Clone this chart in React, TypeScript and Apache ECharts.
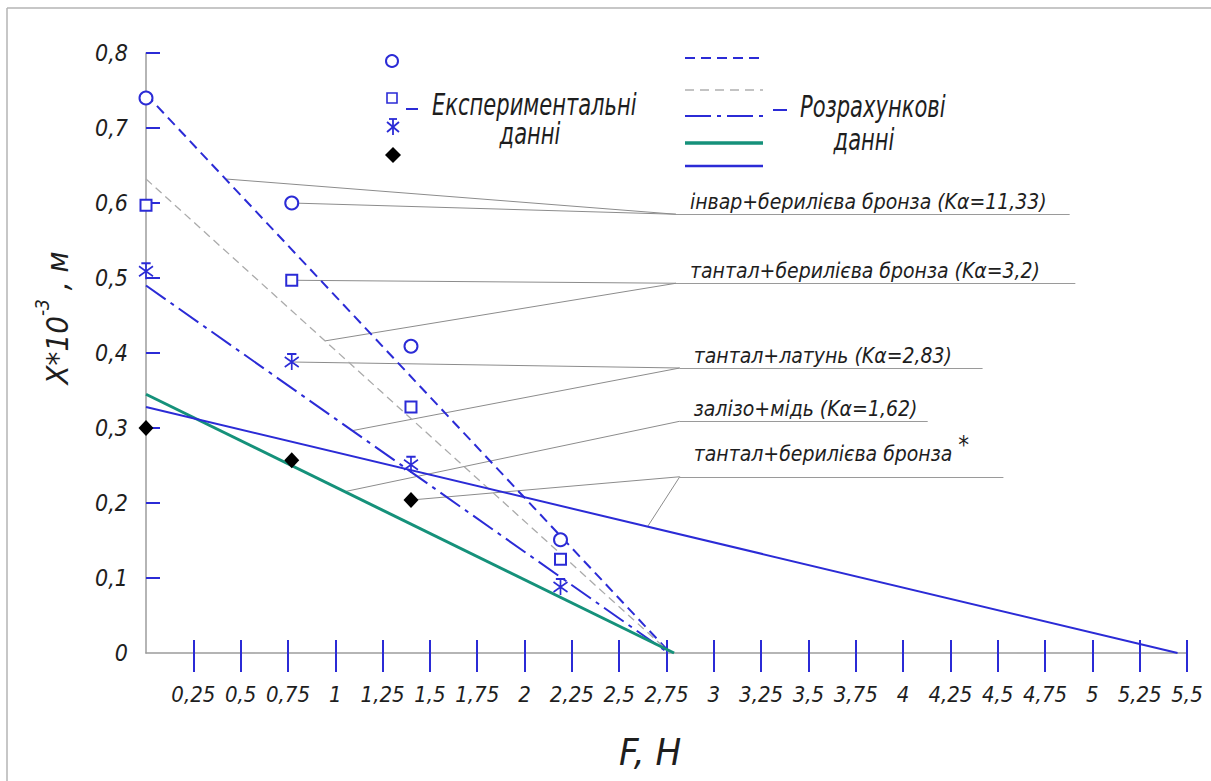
import React, { useEffect, useRef } from 'react';
import * as echarts from 'echarts';

const FONT = "'DejaVu Sans Condensed', 'Liberation Sans Narrow', 'DejaVu Sans', sans-serif";
const BLUE = '#2b2bd6';
const GREEN = '#15917a';
const AXIS_GRAY = '#9c9c9c';
const LEADER_GRAY = '#8c8c8c';
const TEXT = '#1e1e1e';

// axis ticks
const xTicks = [0.25, 0.5, 0.75, 1, 1.25, 1.5, 1.75, 2, 2.25, 2.5, 2.75, 3, 3.25, 3.5, 3.75, 4, 4.25, 4.5, 4.75, 5, 5.25, 5.5];
const yTicks = [0.1, 0.2, 0.3, 0.4, 0.5, 0.6, 0.7, 0.8];

// experimental data (F, H -> X*10^-3, m)
const expForce = [0, 0.77, 1.4, 2.19];
const invarBronzeExp = [0.74, 0.6, 0.409, 0.151];
const tantalBronzeExp = [0.597, 0.497, 0.328, 0.125];
const tantalBrassExp = [0.509, 0.388, 0.251, 0.088];
const tantalBronzeStarExp = [0.3, 0.257, 0.204];

// calculated data (end points of straight lines)
const invarBronzeCalcF = [0, 2.77];
const invarBronzeCalc = [0.745, 0];
const tantalBronzeCalcF = [0, 2.77];
const tantalBronzeCalc = [0.632, 0];
const tantalBrassCalcF = [0, 2.76];
const tantalBrassCalc = [0.49, 0];
const ironCopperCalcF = [0, 2.79];
const ironCopperCalc = [0.345, 0];
const tantalBronzeStarCalcF = [0, 5.45];
const tantalBronzeStarCalc = [0.328, 0];

// annotations
const annotationTexts = [
  'інвар+берилієва бронза (Kα=11,33)',
  'тантал+берилієва бронза (Kα=3,2)',
  'тантал+латунь (Kα=2,83)',
  'залізо+мідь (Kα=1,62)',
  '{t|тантал+берилієва бронза} {s|*}',
];
const annoAnchorF = [2.8, 2.8, 2.82, 2.82, 2.82];
const annoAnchorX = [0.585, 0.493, 0.38, 0.309, 0.235];
const annoEndF = [4.88, 4.91, 4.42, 4.13, 4.53];
const annoLineF = [0.42, 0.946, 1.09, 1.05, 2.65];

const pairs = (xs: number[], ys: number[]) => ys.map((y, i) => [xs[i], y]);
const lineAt = (fs: number[], xs: number[], f: number) =>
  xs[0] + ((xs[1] - xs[0]) * (f - fs[0])) / (fs[1] - fs[0]);

const STAR = 'path://M7,0L7,16M1,3L13,13M1,13L13,3M3,0L11,0';

export default function App() {
  const ref = useRef<HTMLDivElement>(null);
  useEffect(() => {
    if (!ref.current) return;
    const chart = echarts.init(ref.current, null, { renderer: 'svg' });

    const calcSets = [
      [invarBronzeCalcF, invarBronzeCalc],
      [tantalBronzeCalcF, tantalBronzeCalc],
      [tantalBrassCalcF, tantalBrassCalc],
      [ironCopperCalcF, ironCopperCalc],
      [tantalBronzeStarCalcF, tantalBronzeStarCalc],
    ];
    const expSources: (number[] | null)[] = [
      [expForce[1], invarBronzeExp[1]],
      [expForce[1], tantalBronzeExp[1]],
      [expForce[1], tantalBrassExp[1]],
      null,
      [expForce[2], tantalBronzeStarExp[2]],
    ];

    const annoData: any[] = [];
    annotationTexts.forEach((txt, i) => {
      const anchor = [annoAnchorF[i], annoAnchorX[i]];
      annoData.push({
        coords: [anchor, [annoEndF[i], annoAnchorX[i]]],
        lineStyle: { color: '#9a9a9a', width: 1.2 },
        label: {
          show: true,
          position: 'insideStartTop',
          distance: [14, 2],
          formatter: txt,
          fontFamily: FONT,
          fontStyle: 'italic',
          fontSize: 21,
          color: TEXT,
          rich: {
            t: { fontFamily: FONT, fontStyle: 'italic', fontSize: 21, color: TEXT },
            s: { fontFamily: FONT, fontSize: 24, color: TEXT, padding: [0, 0, 18, 0] },
          },
        },
      });
      const [fs, xs] = calcSets[i];
      const f = annoLineF[i];
      annoData.push({ coords: [[f, lineAt(fs, xs, f)], anchor] });
      const src = expSources[i];
      if (src) annoData.push({ coords: [src, anchor] });
    });

    const xFmt = (v: number) => String(+v.toFixed(2)).replace('.', ',');
    const yFmt = (v: number) => (v === 0 ? '0' : v.toFixed(1).replace('.', ','));
    const lbl = { fontFamily: FONT, fontStyle: 'italic', color: TEXT };
    const legendText = (text: string, x: number, y: number, align: string) => ({
      type: 'text', x, y, scaleX: 0.78,
      style: { text, fontSize: 30, fontFamily: FONT, fontStyle: 'italic', fill: TEXT, align, verticalAlign: 'middle' },
    });

    const option: any = {
      animation: false,
      backgroundColor: '#ffffff',
      grid: { left: 146, right: 24, top: 53, bottom: 128 },
      xAxis: [
        {
          type: 'value', min: 0, max: 5.5, interval: 0.25, position: 'bottom',
          splitLine: { show: false },
          axisLine: { show: true, lineStyle: { color: AXIS_GRAY, width: 1.5 } },
          axisTick: { show: true, customValues: xTicks, length: 19, lineStyle: { color: BLUE, width: 2 } },
          axisLabel: { customValues: xTicks, formatter: xFmt, margin: 30, fontSize: 22, ...lbl },
        },
        {
          type: 'value', min: 0, max: 5.5, interval: 0.25, position: 'bottom', offset: 0,
          splitLine: { show: false },
          axisLine: { show: false },
          axisTick: { show: true, inside: true, customValues: xTicks, length: 13, lineStyle: { color: BLUE, width: 2 } },
          axisLabel: { show: false },
        },
      ],
      yAxis: {
        type: 'value', min: 0, max: 0.8, interval: 0.1,
        splitLine: { show: false },
        axisLine: { show: true, lineStyle: { color: AXIS_GRAY, width: 1.5 } },
        axisTick: { show: true, inside: true, customValues: yTicks, length: 14, lineStyle: { color: BLUE, width: 2 } },
        axisLabel: { formatter: yFmt, margin: 18, fontSize: 23, ...lbl },
      },
      graphic: [
        { type: 'line', shape: { x1: 7, y1: 8, x2: 1211, y2: 8 }, style: { stroke: '#b4b4b4', lineWidth: 1.5 } },
        { type: 'line', shape: { x1: 7, y1: 8, x2: 7, y2: 781 }, style: { stroke: '#b4b4b4', lineWidth: 1.5 } },
        // experimental legend
        { type: 'circle', shape: { cx: 392, cy: 61, r: 6 }, style: { fill: '#fff', stroke: BLUE, lineWidth: 2 } },
        { type: 'rect', shape: { x: 387, y: 93, width: 10, height: 10 }, style: { fill: '#fff', stroke: BLUE, lineWidth: 1.6 } },
        {
          type: 'group', x: 393, y: 127, children: [
            { type: 'line', shape: { x1: 0, y1: -8, x2: 0, y2: 8 }, style: { stroke: BLUE, lineWidth: 1.8 } },
            { type: 'line', shape: { x1: -6, y1: -5, x2: 6, y2: 5 }, style: { stroke: BLUE, lineWidth: 1.8 } },
            { type: 'line', shape: { x1: -6, y1: 5, x2: 6, y2: -5 }, style: { stroke: BLUE, lineWidth: 1.8 } },
            { type: 'line', shape: { x1: -4, y1: -8, x2: 4, y2: -8 }, style: { stroke: BLUE, lineWidth: 1.8 } },
          ],
        },
        { type: 'polygon', shape: { points: [[393, 147], [401, 155], [393, 163], [385, 155]] }, style: { fill: '#000' } },
        { type: 'line', shape: { x1: 406, y1: 109, x2: 418, y2: 109 }, style: { stroke: BLUE, lineWidth: 2 } },
        legendText('Експериментальні', 432, 104, 'left'),
        legendText('данні', 530, 133, 'center'),
        // calculated legend
        { type: 'line', shape: { x1: 685, y1: 58, x2: 763, y2: 58 }, style: { stroke: BLUE, lineWidth: 2.2, lineDash: [10, 6] } },
        { type: 'line', shape: { x1: 685, y1: 90, x2: 763, y2: 90 }, style: { stroke: '#b0b0b0', lineWidth: 1.4, lineDash: [9, 6] } },
        { type: 'line', shape: { x1: 685, y1: 116, x2: 763, y2: 116 }, style: { stroke: BLUE, lineWidth: 2.2, lineDash: [26, 6, 4, 6] } },
        { type: 'line', shape: { x1: 685, y1: 143, x2: 763, y2: 143 }, style: { stroke: GREEN, lineWidth: 3.5 } },
        { type: 'line', shape: { x1: 685, y1: 166, x2: 763, y2: 166 }, style: { stroke: BLUE, lineWidth: 2.4 } },
        { type: 'line', shape: { x1: 773, y1: 110, x2: 787, y2: 110 }, style: { stroke: BLUE, lineWidth: 2 } },
        legendText('Розрахункові', 800, 106, 'left'),
        legendText('данні', 864, 139, 'center'),
        // axis titles
        {
          type: 'text', x: 52, y: 318, rotation: Math.PI / 2,
          style: {
            text: '{a|X*10}{b|-3}{a| , м}', align: 'center', verticalAlign: 'middle',
            rich: {
              a: { fontSize: 31, fontFamily: FONT, fontStyle: 'italic', fill: TEXT, lineHeight: 40, verticalAlign: 'bottom' },
              b: { fontSize: 19, fontFamily: FONT, fontStyle: 'italic', fill: TEXT, lineHeight: 40, verticalAlign: 'top' },
            },
          },
        },
        { type: 'text', x: 650, y: 752, style: { text: 'F, H', fontSize: 38, fontFamily: FONT, fontStyle: 'italic', fill: TEXT, align: 'center', verticalAlign: 'middle' } },
      ],
      series: [
        { name: 'інвар+берилієва бронза розр.', type: 'line', data: pairs(invarBronzeCalcF, invarBronzeCalc), symbol: 'none', z: 2, lineStyle: { color: BLUE, width: 2, type: [10, 6] } },
        { name: 'тантал+берилієва бронза розр.', type: 'line', data: pairs(tantalBronzeCalcF, tantalBronzeCalc), symbol: 'none', z: 2, lineStyle: { color: '#ababab', width: 1.3, type: [8, 5] } },
        { name: 'тантал+латунь розр.', type: 'line', data: pairs(tantalBrassCalcF, tantalBrassCalc), symbol: 'none', z: 2, lineStyle: { color: BLUE, width: 2, type: [24, 6, 4, 6] } },
        { name: 'залізо+мідь розр.', type: 'line', data: pairs(ironCopperCalcF, ironCopperCalc), symbol: 'none', z: 2, lineStyle: { color: GREEN, width: 3 } },
        { name: 'тантал+берилієва бронза* розр.', type: 'line', data: pairs(tantalBronzeStarCalcF, tantalBronzeStarCalc), symbol: 'none', z: 2, lineStyle: { color: BLUE, width: 2 } },
        {
          name: 'анотації', type: 'lines', coordinateSystem: 'cartesian2d', z: 1, silent: true,
          lineStyle: { color: LEADER_GRAY, width: 1, opacity: 1, curveness: 0 },
          data: annoData,
        },
        { name: 'інвар+берилієва бронза експ.', type: 'scatter', data: pairs(expForce, invarBronzeExp), symbol: 'emptyCircle', symbolSize: 13, z: 5, itemStyle: { color: BLUE, borderColor: BLUE, borderWidth: 2, opacity: 1 } },
        { name: 'тантал+берилієва бронза експ.', type: 'scatter', data: pairs(expForce, tantalBronzeExp), symbol: 'emptyRect', symbolSize: 11, z: 5, itemStyle: { color: BLUE, borderColor: BLUE, borderWidth: 1.8, opacity: 1 } },
        { name: 'тантал+латунь експ.', type: 'scatter', data: pairs(expForce, tantalBrassExp), symbol: STAR, symbolSize: [14, 16], z: 5, itemStyle: { color: BLUE, borderColor: BLUE, borderWidth: 1.8, opacity: 1 } },
        { name: 'тантал+берилієва бронза* експ.', type: 'scatter', data: pairs(expForce, tantalBronzeStarExp), symbol: 'diamond', symbolSize: [15, 16], z: 5, itemStyle: { color: '#000', opacity: 1 } },
      ],
    };
    chart.setOption(option);
    return () => chart.dispose();
  }, []);
  return <div ref={ref} style={{ position: 'absolute', left: 0, top: 0, width: 1211, height: 781, background: '#fff' }} />;
}
